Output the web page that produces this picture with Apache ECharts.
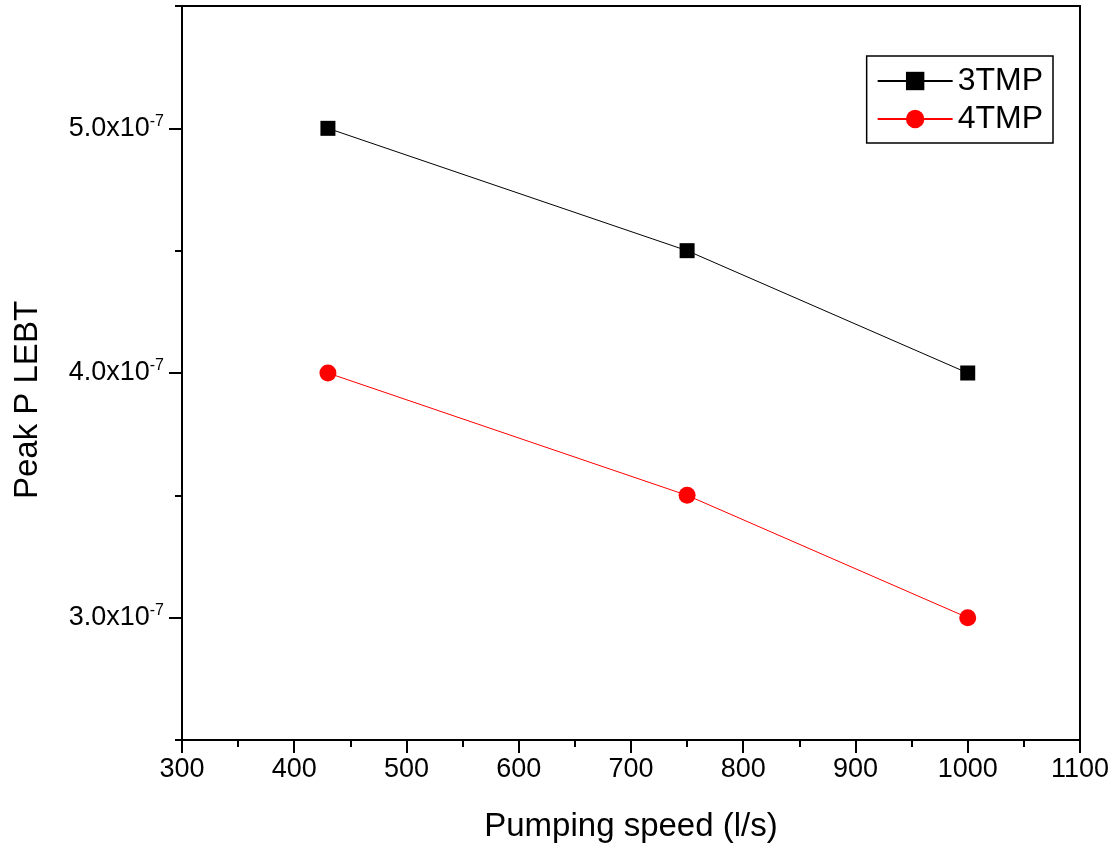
<!DOCTYPE html>
<html>
<head>
<meta charset="utf-8">
<script src="https://cdn.jsdelivr.net/npm/echarts@6/dist/echarts.min.js"></script>
<style>
html,body{margin:0;padding:0;background:#fff;}
#c{width:1112px;height:848px;}
</style>
</head>
<body>
<div id="c"></div>
<script>
const pumpingSpeed = [430, 750, 1000];
const tmp3 = [5.0e-7, 4.5e-7, 4.0e-7];
const tmp4 = [4.0e-7, 3.5e-7, 3.0e-7];
const seriesNames = ['3TMP', '4TMP'];
const yMajorTicks = [3.0e-7, 4.0e-7, 5.0e-7];
const xTitle = 'Pumping speed (l/s)';
const yTitle = 'Peak P LEBT';

const FONT = '"Liberation Sans", Arial, sans-serif';
const chart = echarts.init(document.getElementById('c'));

function pairs(xs, ys) { return xs.map((x, i) => [x, ys[i]]); }

const yBase = { type: 'value', min: 2.5e-7, max: 5.5e-7, interval: 0.5e-7, splitLine: { show: false } };

chart.setOption({
  backgroundColor: '#fff',
  animation: false,
  grid: { left: 182, right: 32, top: 6, bottom: 107, containLabel: false },
  legend: {
    data: seriesNames,
    orient: 'vertical',
    right: 59, top: 56,
    borderColor: '#000', borderWidth: 1.5,
    padding: [9, 10, 8, 10],
    itemWidth: 75, itemHeight: 23, itemGap: 6,
    textStyle: { fontFamily: FONT, fontSize: 32, lineHeight: 32, color: '#000' }
  },
  xAxis: [
    {
      type: 'value', position: 'bottom', min: 300, max: 1100, interval: 100,
      name: xTitle, nameLocation: 'middle', nameGap: 70,
      nameTextStyle: { fontFamily: FONT, fontSize: 33, color: '#000' },
      axisLine: { show: true, onZero: false, lineStyle: { color: '#000', width: 2 } },
      axisTick: { show: true, inside: false, length: 13, lineStyle: { color: '#000', width: 2 } },
      minorTick: { show: true, splitNumber: 2, length: 7, lineStyle: { color: '#000', width: 2 } },
      axisLabel: { fontFamily: FONT, fontSize: 27, color: '#000', margin: 16, formatter: v => String(v) },
      splitLine: { show: false }
    },
    {
      type: 'value', position: 'top', min: 300, max: 1100, interval: 100,
      axisLine: { show: true, onZero: false, lineStyle: { color: '#000', width: 2 } },
      axisTick: { show: false }, axisLabel: { show: false }, splitLine: { show: false }
    }
  ],
  yAxis: [
    Object.assign({}, yBase, {
      position: 'left',
      name: yTitle, nameLocation: 'middle', nameGap: 138, nameRotate: 90,
      nameTextStyle: { fontFamily: FONT, fontSize: 33, color: '#000', padding: [0, 54, 0, 0] },
      axisLine: { show: true, onZero: false, lineStyle: { color: '#000', width: 2 } },
      axisTick: { show: true, length: 7, lineStyle: { color: '#000', width: 2 } },
      axisLabel: { show: false }
    }),
    Object.assign({}, yBase, {
      position: 'left',
      axisLine: { show: false },
      axisTick: { show: true, length: 13, customValues: yMajorTicks, lineStyle: { color: '#000', width: 2 } },
      axisLabel: {
        show: true, customValues: yMajorTicks, margin: 18,
        formatter: v => '{b|' + (v * 1e7).toFixed(1) + 'x10}{s|-7}',
        rich: {
          b: { fontFamily: FONT, fontSize: 27, color: '#000' },
          s: { fontFamily: FONT, fontSize: 16, color: '#000', verticalAlign: 'top', padding: [0, 0, 14, 0] }
        }
      }
    }),
    Object.assign({}, yBase, {
      position: 'right',
      axisLine: { show: true, onZero: false, lineStyle: { color: '#000', width: 2 } },
      axisTick: { show: false }, axisLabel: { show: false }
    })
  ],
  series: [
    {
      name: seriesNames[0], type: 'line', xAxisIndex: 0, yAxisIndex: 0,
      data: pairs(pumpingSpeed, tmp3),
      symbol: 'rect', symbolSize: 15,
      lineStyle: { color: '#000', width: 1 },
      itemStyle: { color: '#000' }
    },
    {
      name: seriesNames[1], type: 'line', xAxisIndex: 0, yAxisIndex: 0,
      data: pairs(pumpingSpeed, tmp4),
      symbol: 'circle', symbolSize: 17,
      lineStyle: { color: '#ff0000', width: 1 },
      itemStyle: { color: '#ff0000' }
    }
  ]
});
</script>
</body>
</html>
